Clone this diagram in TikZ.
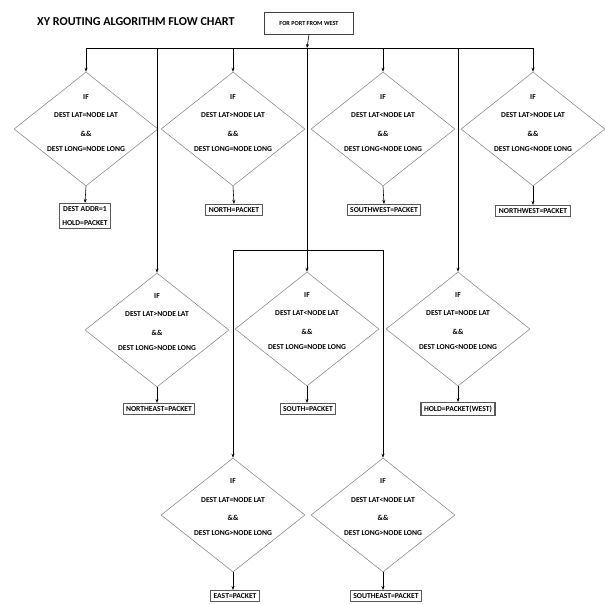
\documentclass[tikz,border=0pt]{standalone}
\usepackage{fontspec}
\setmainfont{Carlito}
\usetikzlibrary{shapes.geometric,arrows.meta}
\begin{document}
\begin{tikzpicture}[x=1pt,y=-1pt,
  dia/.style={diamond,draw=black!45,line width=0.6pt,minimum width=144pt,minimum height=114pt,inner sep=0pt},
  dtext/.style={align=center,font=\bfseries\fontsize{7.6}{18.5}\selectfont,inner sep=0pt},
  outbox/.style={draw=black!65,line width=1.1pt,align=center,
    font=\bfseries\fontsize{7.6}{14}\selectfont,inner xsep=3pt,inner ysep=3pt},
  arr/.style={-{Stealth[length=4pt,width=3pt]},line width=0.6pt},
  ln/.style={line width=0.6pt}]
\useasboundingbox (0,0) rectangle (605,603);
% title
\node[font=\bfseries\fontsize{12.1}{14}\selectfont,anchor=west,inner sep=0pt] (title) at (37,22) {XY ROUTING ALGORITHM FLOW CHART};
\node[draw=black!75,line width=0.9pt,font=\bfseries\fontsize{6.2}{8}\selectfont,minimum width=89pt,minimum height=22pt,inner sep=0pt] (top) at (309,23) {FOR PORT FROM WEST};
% junctions
\coordinate (j0) at (307,48);
\coordinate (j1) at (307,250);
% row 1 diamonds
\node[dia] (d1) at (86,129) {};
\node[dia] (d2) at (233,129) {};
\node[dia] (d3) at (383,129) {};
\node[dia] (d4) at (533,129) {};
% row 2 diamonds
\node[dia] (d5) at (157,330) {};
\node[dia] (d6) at (307,329) {};
\node[dia] (d7) at (458,329) {};
% row 3 diamonds
\node[dia] (d8) at (233,515) {};
\node[dia] (d9) at (383,515) {};
% diamond texts
\node[dtext,yshift=6pt] (t1) at (d1) {IF\\DEST LAT=NODE LAT\\\&\&\\[-3pt]DEST LONG=NODE LONG};
\node[dtext,yshift=6pt] (t2) at (d2) {IF\\DEST LAT>NODE LAT\\\&\&\\[-3pt]DEST LONG=NODE LONG};
\node[dtext,yshift=6pt] (t3) at (d3) {IF\\DEST LAT<NODE LAT\\\&\&\\[-3pt]DEST LONG<NODE LONG};
\node[dtext,yshift=6pt] (t4) at (d4) {IF\\DEST LAT>NODE LAT\\\&\&\\[-3pt]DEST LONG<NODE LONG};
\node[dtext,yshift=8pt] (t5) at (d5) {IF\\DEST LAT>NODE LAT\\\&\&\\[-3pt]DEST LONG>NODE LONG};
\node[dtext,yshift=8pt] (t6) at (d6) {IF\\DEST LAT<NODE LAT\\\&\&\\[-3pt]DEST LONG=NODE LONG};
\node[dtext,yshift=8pt] (t7) at (d7) {IF\\DEST LAT=NODE LAT\\\&\&\\[-3pt]DEST LONG<NODE LONG};
\node[dtext,yshift=8pt] (t8) at (d8) {IF\\DEST LAT=NODE LAT\\\&\&\\[-4pt]DEST LONG>NODE LONG};
\node[dtext,yshift=8pt] (t9) at (d9) {IF\\DEST LAT<NODE LAT\\\&\&\\[-4pt]DEST LONG>NODE LONG};
% result boxes
\node[outbox] (b1) at (85,216) {DEST ADDR=1\\HOLD=PACKET};
\node[outbox] (b2) at (234,210) {NORTH=PACKET};
\node[outbox] (b3) at (384,210) {SOUTHWEST=PACKET};
\node[outbox] (b4) at (533,211) {NORTHWEST=PACKET};
\node[outbox] (b5) at (159,409) {NORTHEAST=PACKET};
\node[outbox] (b6) at (308,409) {SOUTH=PACKET};
\node[outbox] (b7) at (458,409) {HOLD=PACKET(WEST)};
\node[outbox,anchor=north] (b8) at (235,590) {EAST=PACKET};
\node[outbox,anchor=north] (b9) at (386,590) {SOUTHEAST=PACKET};
% connectors
\draw[arr] (top.south) -- (j0);
\draw[ln] (j0 -| d1.north) -- (j0 -| d4.north);
\draw[arr] (j0 -| d1.north) -- (d1.north);
\draw[arr] (j0 -| d2.north) -- (d2.north);
\draw[arr] (j0 -| d3.north) -- (d3.north);
\draw[arr] (j0 -| d4.north) -- (d4.north);
\draw[arr] (j0 -| d5.north) -- (d5.north);
\draw[arr] (j0) -- (d6.north);
\draw[arr] (j0 -| d7.north) -- (d7.north);
\draw[ln] (j1 -| d8.north) -- (j1 -| d9.north);
\draw[arr] (j1 -| d8.north) -- (d8.north);
\draw[arr] (j1 -| d9.north) -- (d9.north);
\draw[arr] (d1.south) -- (b1.north);
\draw[arr] (d2.south) -- (b2.north);
\draw[arr] (d3.south) -- (b3.north);
\draw[arr] (d4.south) -- (b4.north);
\draw[arr] (d5.south) -- (d5.south |- b5.north);
\draw[arr] (d6.south) -- (d6.south |- b6.north);
\draw[arr] (d7.south) -- (b7.north);
\draw[arr] (d8.south) -- (d8.south |- b8.north);
\draw[arr] (d9.south) -- (d9.south |- b9.north);
\end{tikzpicture}
\end{document}
